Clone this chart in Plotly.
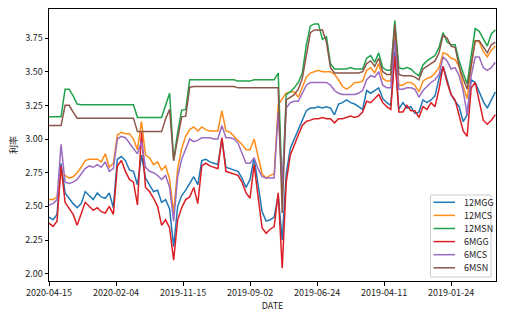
import plotly.graph_objects as go

# Trading-day positions are spaced 3 rows apart; tick labels every 50 rows.
STEP = 3
tick_dates = ["2020-04-15", "2020-02-04", "2019-11-15", "2019-09-02",
              "2019-06-24", "2019-04-11", "2019-01-24"]

mgg12 = [2.42, 2.40, 2.44, 2.82, 2.60, 2.56, 2.52, 2.49, 2.52, 2.61,
         2.58, 2.55, 2.60, 2.57, 2.56, 2.60, 2.49, 2.85, 2.87, 2.84,
         2.77, 2.76, 2.66, 2.88, 2.71, 2.66, 2.61, 2.62, 2.53, 2.55,
         2.48, 2.20, 2.50, 2.58, 2.62, 2.67, 2.72, 2.66, 2.84, 2.85,
         2.83, 2.82, 2.81, 3.00, 2.79, 2.78, 2.77, 2.76, 2.71, 2.64,
         2.70, 2.86, 2.66, 2.46, 2.39, 2.40, 2.42, 2.58, 2.25, 2.74,
         2.93, 3.00, 3.07, 3.15, 3.21, 3.23, 3.23, 3.24, 3.23, 3.24,
         3.23, 3.18, 3.26, 3.27, 3.29, 3.27, 3.26, 3.24, 3.22, 3.36,
         3.34, 3.36, 3.38, 3.30, 3.27, 3.25, 3.65, 3.22, 3.27, 3.23,
         3.24, 3.19, 3.20, 3.29, 3.27, 3.29, 3.32, 3.45, 3.54, 3.44,
         3.33, 3.28, 3.24, 3.13, 3.18, 3.44, 3.42, 3.35, 3.28, 3.23,
         3.29, 3.35]

mcs12 = [2.55, 2.55, 2.57, 2.74, 2.73, 2.71, 2.72, 2.75, 2.79, 2.84,
         2.85, 2.85, 2.85, 2.83, 2.89, 2.79, 2.82, 3.03, 3.05, 3.04,
         3.04, 3.00, 2.92, 3.13, 2.88, 2.86, 2.81, 2.83, 2.77, 2.80,
         2.70, 2.45, 2.78, 2.93, 3.02, 3.07, 3.09, 3.06, 3.09, 3.07,
         3.06, 3.06, 3.06, 3.21, 3.06, 3.05, 3.02, 2.99, 2.96, 2.92,
         2.92, 3.00, 2.87, 2.74, 2.71, 2.73, 2.74, 3.25, 3.30, 3.34,
         3.35, 3.35, 3.31, 3.38, 3.46, 3.49, 3.50, 3.51, 3.50, 3.50,
         3.50, 3.48, 3.44, 3.39, 3.37, 3.39, 3.42, 3.42, 3.43, 3.51,
         3.53, 3.49, 3.56, 3.45, 3.43, 3.43, 3.78, 3.40, 3.40, 3.42,
         3.42, 3.40, 3.35, 3.43, 3.45, 3.46, 3.49, 3.53, 3.64, 3.63,
         3.60, 3.59, 3.54, 3.39, 3.30, 3.54, 3.73, 3.72, 3.65, 3.61,
         3.66, 3.69]

msn12 = [3.165, 3.165, 3.165, 3.165, 3.37, 3.37, 3.32, 3.26, 3.255, 3.255,
         3.255, 3.255, 3.255, 3.255, 3.255, 3.255, 3.255, 3.255, 3.255, 3.255,
         3.255, 3.255, 3.16, 3.16, 3.16, 3.16, 3.16, 3.16, 3.16, 3.25,
         3.34, 2.84, 3.05, 3.215, 3.22, 3.44, 3.44, 3.44, 3.44, 3.44,
         3.44, 3.44, 3.44, 3.44, 3.44, 3.44, 3.44, 3.43, 3.43, 3.43,
         3.43, 3.44, 3.44, 3.44, 3.44, 3.44, 3.44, 3.49, 2.62, 3.33,
         3.35, 3.38, 3.42, 3.49, 3.70, 3.84, 3.855, 3.855, 3.74, 3.76,
         3.56, 3.52, 3.52, 3.52, 3.52, 3.53, 3.52, 3.52, 3.52, 3.60,
         3.62, 3.57, 3.64, 3.53, 3.51, 3.51, 3.88, 3.53, 3.52, 3.53,
         3.52, 3.49, 3.47, 3.55, 3.58, 3.60, 3.62, 3.68, 3.79, 3.72,
         3.70, 3.70, 3.58, 3.49, 3.41, 3.62, 3.82, 3.80, 3.74, 3.69,
         3.78, 3.81]

mgg6 = [2.375, 2.35, 2.39, 2.80, 2.53, 2.48, 2.44, 2.36, 2.45, 2.53,
        2.50, 2.47, 2.49, 2.46, 2.45, 2.50, 2.44, 2.80, 2.84, 2.76,
        2.70, 2.68, 2.51, 3.05, 2.64, 2.61, 2.56, 2.50, 2.36, 2.40,
        2.34, 2.10, 2.40, 2.49, 2.55, 2.57, 2.64, 2.52, 2.80, 2.82,
        2.80, 2.79, 2.78, 3.01, 2.76, 2.75, 2.74, 2.73, 2.68, 2.60,
        2.56, 2.81, 2.57, 2.34, 2.30, 2.33, 2.35, 2.60, 2.04, 2.68,
        2.88, 2.96, 3.03, 3.10, 3.13, 3.14, 3.15, 3.15, 3.16, 3.15,
        3.15, 3.12, 3.15, 3.15, 3.16, 3.17, 3.16, 3.17, 3.20, 3.28,
        3.27, 3.30, 3.33, 3.27, 3.24, 3.22, 3.62, 3.20, 3.20, 3.25,
        3.21, 3.21, 3.16, 3.24, 3.22, 3.27, 3.24, 3.37, 3.54, 3.42,
        3.33, 3.29, 3.18, 3.06, 3.02, 3.38, 3.42, 3.27, 3.14, 3.11,
        3.14, 3.18]

mcs6 = [2.51, 2.52, 2.55, 2.96, 2.68, 2.67, 2.68, 2.70, 2.74, 2.78,
        2.80, 2.79, 2.81, 2.79, 2.83, 2.76, 2.78, 3.00, 3.02, 3.01,
        2.97, 2.93, 2.89, 2.98, 2.79, 2.76, 2.75, 2.73, 2.70, 2.73,
        2.64, 2.39, 2.72, 2.85, 2.93, 3.00, 2.98, 2.99, 3.01, 3.01,
        3.01, 3.00, 3.00, 3.10, 3.01, 3.01, 3.00, 2.97, 2.90, 2.82,
        2.82, 2.86, 2.78, 2.72, 2.71, 2.71, 2.71, 3.20, 2.66, 3.23,
        3.27, 3.28, 3.28, 3.34, 3.40, 3.42, 3.42, 3.42, 3.42, 3.42,
        3.40, 3.36, 3.34, 3.33, 3.33, 3.33, 3.33, 3.34, 3.36, 3.44,
        3.47, 3.46, 3.50, 3.40, 3.38, 3.38, 3.74, 3.37, 3.37, 3.38,
        3.38, 3.37, 3.31, 3.36, 3.39, 3.42, 3.44, 3.48, 3.61, 3.58,
        3.52, 3.53, 3.47, 3.36, 3.18, 3.47, 3.61, 3.61, 3.53, 3.51,
        3.53, 3.57]

msn6 = [3.10, 3.10, 3.10, 3.10, 3.25, 3.25, 3.20, 3.155, 3.155, 3.155,
        3.155, 3.155, 3.155, 3.155, 3.155, 3.155, 3.155, 3.155, 3.155, 3.155,
        3.155, 3.155, 3.055, 3.055, 3.055, 3.055, 3.055, 3.055, 3.055, 3.15,
        3.22, 2.84, 3.00, 3.165, 3.17, 3.385, 3.39, 3.39, 3.39, 3.39,
        3.39, 3.39, 3.39, 3.39, 3.39, 3.39, 3.39, 3.38, 3.38, 3.38,
        3.38, 3.385, 3.385, 3.385, 3.385, 3.385, 3.385, 3.38, 2.45, 3.29,
        3.31, 3.33, 3.37, 3.45, 3.62, 3.79, 3.81, 3.81, 3.81, 3.72,
        3.53, 3.49, 3.49, 3.49, 3.49, 3.49, 3.49, 3.49, 3.50, 3.56,
        3.58, 3.54, 3.60, 3.50, 3.48, 3.48, 3.85, 3.48, 3.47, 3.47,
        3.47, 3.46, 3.44, 3.52, 3.54, 3.56, 3.58, 3.64, 3.77, 3.75,
        3.69, 3.68, 3.54, 3.45, 3.37, 3.55, 3.73, 3.73, 3.68, 3.64,
        3.70, 3.72]

series = [
    ("12MGG", mgg12, "#1f77b4"),
    ("12MCS", mcs12, "#ff8c1a"),
    ("12MSN", msn12, "#1fa24a"),
    ("6MGG", mgg6, "#dc1e24"),
    ("6MCS", mcs6, "#9a6bc0"),
    ("6MSN", msn6, "#8c564b"),
]

FONT = "Noto Sans CJK SC"
W, H = 519, 322
ML, MR, MT, MB = 49, 23, 9, 41


def px_x(px):
    """Pixel column -> paper x."""
    return (px - ML) / (W - ML - MR)


def px_y(py):
    """Pixel row -> paper y."""
    return (H - MB - py) / (H - MT - MB)


fig = go.Figure()
for name, vals, color in series:
    pos = list(range(0, STEP * len(vals), STEP))
    fig.add_trace(go.Scatter(
        x=pos, y=vals, mode="lines", name=name, showlegend=False,
        line=dict(color=color, width=1.5),
    ))

# Compact legend box in the lower-right corner of the axes
shapes = [dict(
    type="rect", xref="paper", yref="paper",
    x0=px_x(430.5), x1=px_x(491), y0=px_y(277), y1=px_y(195),
    line=dict(color="#cccccc", width=1), fillcolor="rgba(255,255,255,0.85)",
    layer="above",
)]
annotations = []
for i, (name, _, color) in enumerate(series):
    row = 202.3 + 13.1 * i
    shapes.append(dict(
        type="line", xref="paper", yref="paper",
        x0=px_x(433.5), x1=px_x(455), y0=px_y(row), y1=px_y(row),
        line=dict(color=color, width=1.5), layer="above",
    ))
    annotations.append(dict(
        text=name, xref="paper", yref="paper", x=px_x(461.5), y=px_y(row),
        xanchor="left", yanchor="middle", showarrow=False,
        font=dict(family=FONT, size=9, color="#222"),
    ))

tick_pos = list(range(0, 50 * len(tick_dates), 50))

axis_common = dict(
    showgrid=False, zeroline=False, showline=True, mirror=True,
    linecolor="black", linewidth=1, ticks="outside", ticklen=3.5,
    tickwidth=1, tickcolor="black",
    tickfont=dict(family=FONT, size=9, color="#222"),
)

fig.update_layout(
    width=W, height=H,
    margin=dict(l=ML, r=MR, t=MT, b=MB),
    paper_bgcolor="white", plot_bgcolor="white",
    font=dict(family=FONT, size=9, color="#222"),
    xaxis=dict(
        range=[0, 333.5], tickmode="array", tickvals=tick_pos,
        ticktext=tick_dates,
        title=dict(text="DATE", font=dict(family=FONT, size=9), standoff=3),
        **axis_common,
    ),
    yaxis=dict(
        range=[1.9455, 3.9656], tickmode="array",
        tickvals=[2.00, 2.25, 2.50, 2.75, 3.00, 3.25, 3.50, 3.75],
        tickformat=".2f",
        title=dict(text="利率", font=dict(family=FONT, size=9), standoff=6),
        **axis_common,
    ),
    shapes=shapes,
    annotations=annotations,
    showlegend=False,
)

fig.write_html("out.html")
